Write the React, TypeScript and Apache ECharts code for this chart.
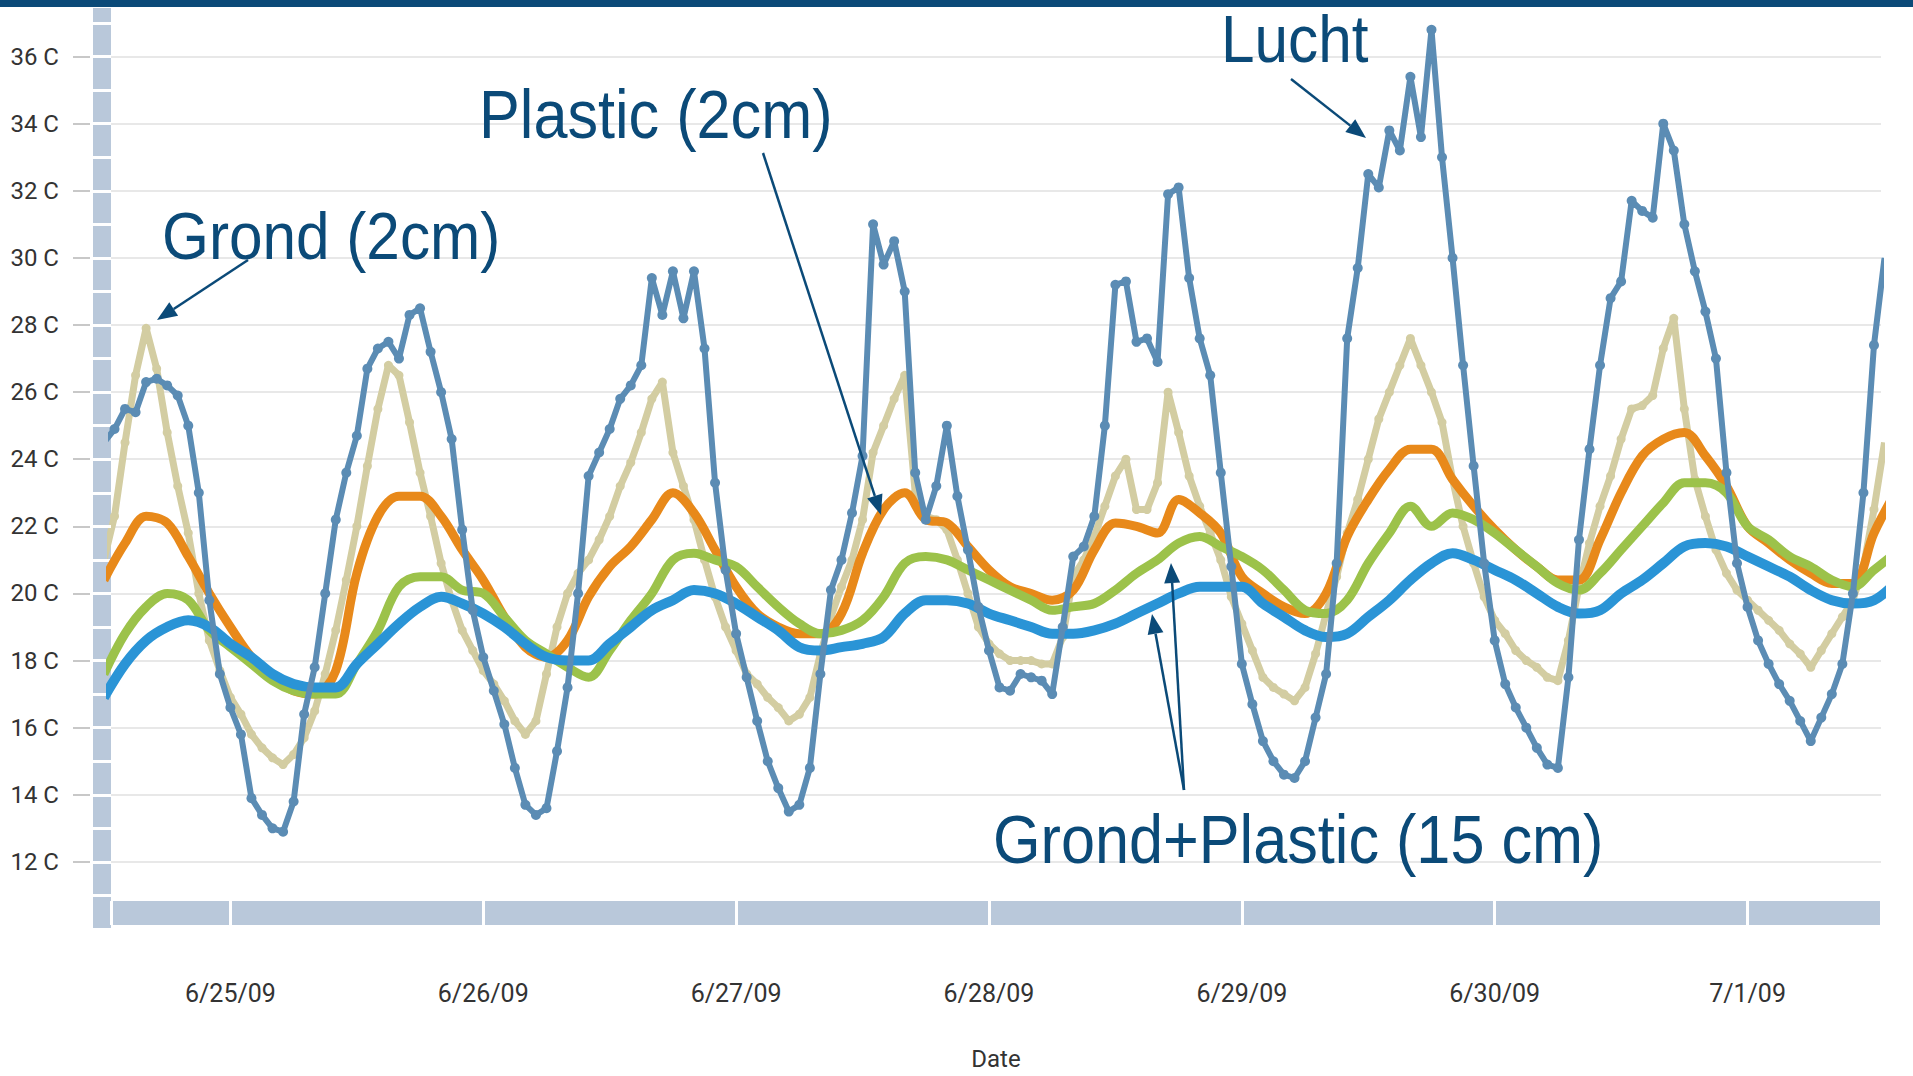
import React, { useEffect, useRef } from "react";
import * as echarts from "echarts";

// ---- time base ----
const START = new Date(2009, 5, 24, 12, 0).getTime(); // first sample 6/24/09 12:00
const HOUR = 3600 * 1000;
const X_MIN = new Date(2009, 5, 24, 12, 40).getTime();
const X_MAX = new Date(2009, 6, 1, 12, 40).getTime();
const Y_MIN = 10;
const Y_MAX = 37.5;
const Y_LABELS = [12, 14, 16, 18, 20, 22, 24, 26, 28, 30, 32, 34, 36];

// ---- Lucht (air), hourly from 6/24 12:00 ----
const LUCHT = [
  24.5, 24.9, 25.5, 25.4, 26.3, 26.4, 26.2, 25.9, 25.0, 23.0,
  19.8, 17.6, 16.6, 15.8, 13.9, 13.4, 13.0, 12.9, 13.8, 16.4,
  17.8, 20.0, 22.2, 23.6, 24.7, 26.7, 27.3, 27.5, 27.0, 28.3,
  28.5, 27.2, 26.0, 24.6, 21.9, 19.5, 18.1, 17.1, 16.1, 14.8,
  13.7, 13.4, 13.6, 15.3, 17.2, 20.0, 23.5, 24.2, 24.9, 25.8,
  26.2, 26.8, 29.4, 28.3, 29.6, 28.2, 29.6, 27.3, 23.3, 20.7,
  18.8, 17.5, 16.2, 15.0, 14.2, 13.5, 13.7, 14.8, 17.6, 20.1,
  21.0, 22.4, 24.1, 31.0, 29.8, 30.5, 29.0, 23.6, 22.2, 23.2,
  25.0, 22.9, 21.3, 19.6, 18.3, 17.2, 17.1, 17.6, 17.5, 17.4,
  17.0, 19.0, 21.1, 21.4, 22.3, 25.0, 29.2, 29.3, 27.5, 27.6,
  26.9, 31.9, 32.1, 29.4, 27.6, 26.5, 23.6, 20.8, 17.9, 16.7,
  15.6, 15.0, 14.6, 14.5, 15.0, 16.3, 17.6, 20.9, 27.6, 29.7,
  32.5, 32.1, 33.8, 33.2, 35.4, 33.6, 36.8, 33.0, 30.0, 26.8,
  23.8, 20.9, 18.6, 17.3, 16.6, 16.0, 15.4, 14.9, 14.8, 17.5,
  21.6, 24.3, 26.8, 28.8, 29.3, 31.7, 31.4, 31.2, 34.0, 33.2,
  31.0, 29.6, 28.4, 27.0, 23.6, 20.9, 19.6, 18.6, 17.9, 17.3,
  16.8, 16.2, 15.6, 16.3, 17.0, 17.9, 20.0, 23.0, 27.4, 30.0,
];

// ---- Grond (2cm), hourly from 6/24 12:00 ----
const GROND_2CM = [
  21.0, 22.3, 24.5, 26.5, 27.9, 26.7, 24.8, 23.2, 21.8, 20.0,
  18.6, 17.7, 16.9, 16.4, 15.8, 15.4, 15.1, 14.9, 15.2, 15.7,
  16.5, 17.6, 18.9, 20.4, 22.0, 23.8, 25.5, 26.8, 26.5, 25.1,
  23.6, 22.3, 20.9, 19.8, 18.9, 18.3, 17.7, 17.3, 16.8, 16.2,
  15.8, 16.2, 17.6, 19.0, 20.0, 20.6, 21.0, 21.6, 22.3, 23.2,
  23.9, 24.8, 25.8, 26.3, 24.2, 23.2, 22.2, 21.0, 19.9, 19.0,
  18.3, 17.6, 17.3, 16.9, 16.6, 16.2, 16.4, 16.9, 18.2, 19.3,
  20.2, 21.0, 22.2, 24.2, 25.0, 25.8, 26.5, 23.0, 22.3, 22.2,
  21.9, 21.0, 20.0, 19.0, 18.5, 18.2, 18.0, 18.0, 18.0, 17.9,
  17.9, 18.7, 20.5, 21.0, 21.7, 22.6, 23.5, 24.0, 22.5, 22.5,
  23.3, 26.0, 24.8, 23.5, 22.6, 21.8, 21.0, 19.9, 19.1, 18.3,
  17.5, 17.2, 17.0, 16.8, 17.2, 18.2, 19.4, 20.5, 21.8, 22.8,
  24.0, 25.2, 26.0, 26.8, 27.6, 26.8, 26.0, 25.1, 23.4, 22.0,
  20.9, 19.9, 19.2, 18.8, 18.3, 18.0, 17.8, 17.5, 17.4, 18.6,
  20.2, 21.5, 22.6, 23.5, 24.6, 25.5, 25.6, 25.9, 27.3, 28.2,
  25.5, 23.4, 22.3, 21.3, 20.6, 20.1, 19.8, 19.5, 19.2, 18.9,
  18.5, 18.2, 17.8, 18.3, 18.8, 19.3, 19.8, 20.8, 22.5, 24.5,
];

// ---- Plastic (2cm), every 2 hours from 6/24 12:00 ----
const PLASTIC_2CM = [
  20.4, 21.5, 22.3, 22.1, 21.1, 20.0, 19.0, 18.1, 17.5, 17.1,
  17.0, 17.7, 20.6, 22.3, 22.9, 22.9, 22.3, 21.3, 20.4, 19.3,
  18.4, 18.1, 18.6, 19.9, 20.8, 21.4, 22.2, 23.0, 22.4, 21.3,
  20.2, 19.4, 19.0, 18.8, 18.8, 19.4, 21.2, 22.5, 23.0, 22.2,
  22.1, 21.4, 20.7, 20.2, 20.0, 19.8, 20.1, 21.3, 22.1, 22.0,
  21.8, 22.8, 22.4, 21.8, 20.5, 20.0, 19.6, 19.4, 20.0, 21.7,
  22.8, 23.7, 24.3, 24.3, 23.4, 22.6, 21.9, 21.3, 20.8, 20.4,
  20.4, 21.6, 23.0, 24.1, 24.6, 24.8, 24.1, 23.2, 22.0, 21.5,
  21.0, 20.6, 20.3, 20.3, 21.8, 23.0,
];

// ---- Grond+Plastic (15 cm), two sensors, every 2 hours from 6/24 12:00 ----
const GROND_PLASTIC_15CM_A = [
  17.6, 18.8, 19.6, 20.0, 19.8, 18.9, 18.4, 17.9, 17.4, 17.1,
  17.0, 17.0, 17.9, 18.9, 20.2, 20.5, 20.5, 20.1, 20.0, 19.3,
  18.6, 18.2, 17.8, 17.5, 18.3, 19.2, 20.0, 21.0, 21.2, 21.0,
  20.8, 20.2, 19.6, 19.1, 18.8, 18.9, 19.2, 19.9, 20.9, 21.1,
  21.0, 20.7, 20.4, 20.1, 19.8, 19.5, 19.6, 19.7, 20.1, 20.6,
  21.0, 21.5, 21.7, 21.4, 21.1, 20.7, 20.1, 19.5, 19.4, 19.8,
  20.9, 21.8, 22.6, 22.0, 22.4, 22.2, 21.8, 21.3, 20.8, 20.3,
  20.1, 20.6, 21.3, 22.0, 22.7, 23.3, 23.3, 23.0, 22.0, 21.6,
  21.1, 20.8, 20.4, 20.2, 20.7, 21.2,
];
const GROND_PLASTIC_15CM_B = [
  16.9, 17.9, 18.6, 19.0, 19.2, 19.0, 18.5, 18.1, 17.6, 17.3,
  17.2, 17.2, 17.9, 18.5, 19.1, 19.6, 19.9, 19.7, 19.4, 19.0,
  18.5, 18.1, 18.0, 18.0, 18.5, 19.0, 19.5, 19.8, 20.1, 20.0,
  19.7, 19.3, 18.9, 18.4, 18.3, 18.4, 18.5, 18.7, 19.4, 19.8,
  19.8, 19.7, 19.4, 19.2, 19.0, 18.8, 18.8, 18.9, 19.1, 19.4,
  19.7, 20.0, 20.2, 20.2, 20.2, 19.7, 19.3, 18.9, 18.7, 18.8,
  19.3, 19.8, 20.4, 20.9, 21.2, 21.0, 20.7, 20.4, 20.0, 19.6,
  19.4, 19.5, 20.0, 20.4, 20.9, 21.4, 21.5, 21.4, 21.1, 20.8,
  20.5, 20.1, 19.8, 19.7, 19.8, 20.3,
];

const NAVY = "#0b4a78";
const BAR = "#b9c8da";
const SANS = '"Liberation Sans", Arial, sans-serif';
const AXIS_FONT = 'Roboto, "Liberation Sans", sans-serif';

function toSeries(values: number[], stepHours: number) {
  return values.map((v, i) => [START + i * stepHours * HOUR, v]);
}

function fmtDate(v: number) {
  const d = new Date(v);
  return `${d.getMonth() + 1}/${d.getDate()}/${String(d.getFullYear()).slice(2)}`;
}

function arrow(x1: number, y1: number, x2: number, y2: number, head = 20, half = 8) {
  const dx = x2 - x1;
  const dy = y2 - y1;
  const L = Math.hypot(dx, dy);
  const ux = dx / L;
  const uy = dy / L;
  const bx = x2 - ux * head;
  const by = y2 - uy * head;
  return [
    {
      type: "line",
      z: 100,
      shape: { x1, y1, x2: bx, y2: by },
      style: { stroke: NAVY, lineWidth: 2.5 },
    },
    {
      type: "polygon",
      z: 100,
      shape: {
        points: [
          [x2, y2],
          [bx - uy * half, by + ux * half],
          [bx + uy * half, by - ux * half],
        ],
      },
      style: { fill: NAVY },
    },
  ];
}

// annotation text: condensed look via horizontal scaling
function label(text: string, x: number, baseline: number, size: number, sx: number) {
  return {
    type: "text",
    z: 100,
    x,
    y: baseline - size * 0.35,
    scaleX: sx,
    scaleY: 1,
    style: {
      text,
      font: `${size}px ${SANS}`,
      fill: NAVY,
      textAlign: "left",
      textVerticalAlign: "middle",
      verticalAlign: "middle",
    },
  };
}

export default function App() {
  const ref = useRef<HTMLDivElement>(null);

  useEffect(() => {
    document.body.style.margin = "0";
    const chart = echarts.init(ref.current!, null, { renderer: "svg" });

    const lineBase = { type: "line", animation: false, silent: true, clip: true };

    const option: any = {
      animation: false,
      backgroundColor: "#ffffff",
      grid: { left: 111, right: 32, top: 6.25, bottom: 134, containLabel: false },
      xAxis: [
        {
          type: "time",
          position: "bottom",
          min: X_MIN,
          max: X_MAX,
          minInterval: 24 * HOUR,
          maxInterval: 24 * HOUR,
          offset: -16,
          axisLine: { show: true, lineStyle: { color: BAR, width: 24, cap: "butt" } },
          axisTick: { show: false },
          splitLine: { show: false },
          axisLabel: {
            formatter: (v: number) => fmtDate(v),
            margin: 68,
            fontSize: 25,
            color: "#333333",
            fontFamily: AXIS_FONT,
            showMinLabel: false,
            showMaxLabel: false,
          },
          name: "Date",
          nameLocation: "middle",
          nameGap: 134,
          nameTextStyle: { fontSize: 24, color: "#333333", fontFamily: AXIS_FONT },
        },
        {
          type: "time",
          position: "bottom",
          min: X_MIN,
          max: X_MAX,
          minInterval: 24 * HOUR,
          maxInterval: 24 * HOUR,
          offset: -4,
          z: 3,
          axisLine: { show: false },
          axisTick: { show: true, inside: true, length: 24, lineStyle: { color: "#ffffff", width: 3 } },
          axisLabel: { show: false },
          splitLine: { show: false },
        },
      ],
      yAxis: [
        {
          type: "value",
          position: "left",
          min: Y_MIN,
          max: Y_MAX,
          interval: 2,
          offset: 21,
          axisLine: { show: false },
          axisTick: {
            show: true,
            length: 17,
            customValues: Y_LABELS,
            lineStyle: { color: "#c8c8c8", width: 2 },
          },
          axisLabel: {
            formatter: (v: number) => (Y_LABELS.includes(v) ? `${v} C` : ""),
            margin: 31,
            fontSize: 24,
            color: "#333333",
            fontFamily: AXIS_FONT,
          },
          splitLine: { show: true, lineStyle: { color: "#e8e8e8", width: 2 } },
        },
        {
          type: "value",
          position: "left",
          min: Y_MIN,
          max: Y_MAX,
          interval: 1,
          offset: 9,
          axisLine: { show: true, lineStyle: { color: BAR, width: 18, cap: "butt" } },
          axisTick: { show: false },
          axisLabel: { show: false },
          splitLine: { show: false },
        },
        {
          type: "value",
          position: "left",
          min: Y_MIN,
          max: Y_MAX,
          interval: 1,
          offset: 0,
          z: 3,
          axisLine: { show: false },
          axisTick: { show: true, length: 18, lineStyle: { color: "#ffffff", width: 3 } },
          axisLabel: { show: false },
          splitLine: { show: false },
        },
      ],
      series: [
        {
          ...lineBase,
          name: "Grond (2cm)",
          data: toSeries(GROND_2CM, 1),
          showSymbol: true,
          symbol: "circle",
          symbolSize: 9,
          itemStyle: { color: "#d3cda2" },
          lineStyle: { color: "#d3cda2", width: 7 },
          z: 2,
        },
        {
          ...lineBase,
          name: "Plastic (2cm)",
          data: toSeries(PLASTIC_2CM, 2),
          showSymbol: false,
          smooth: 0.35,
          lineStyle: { color: "#e8891a", width: 9 },
          z: 3,
        },
        {
          ...lineBase,
          name: "Grond+Plastic (15 cm) A",
          data: toSeries(GROND_PLASTIC_15CM_A, 2),
          showSymbol: false,
          smooth: 0.35,
          lineStyle: { color: "#9cc24a", width: 9 },
          z: 4,
        },
        {
          ...lineBase,
          name: "Grond+Plastic (15 cm) B",
          data: toSeries(GROND_PLASTIC_15CM_B, 2),
          showSymbol: false,
          smooth: 0.35,
          lineStyle: { color: "#2a94d6", width: 10 },
          z: 5,
        },
        {
          ...lineBase,
          name: "Lucht",
          data: toSeries(LUCHT, 1),
          showSymbol: true,
          symbol: "circle",
          symbolSize: 10,
          itemStyle: { color: "#5b8cb4" },
          lineStyle: { color: "#5b8cb4", width: 6 },
          z: 6,
        },
      ],
      graphic: [
        {
          type: "rect",
          z: 100,
          shape: { x: 0, y: 0, width: 1913, height: 7 },
          style: { fill: NAVY },
        },
        label("Lucht", 1221, 62, 67, 0.9),
        label("Plastic (2cm)", 479, 138, 68, 0.9),
        label("Grond (2cm)", 162, 259, 67, 0.9),
        label("Grond+Plastic (15 cm)", 993, 863, 68, 0.9),
        ...arrow(248, 260, 157, 320),
        ...arrow(763, 153, 881, 515),
        ...arrow(1291, 79, 1366, 138),
        ...arrow(1184, 790, 1171, 563),
        ...arrow(1184, 790, 1152, 614),
      ],
    };

    chart.setOption(option);
    return () => chart.dispose();
  }, []);

  return <div ref={ref} style={{ width: 1913, height: 1076 }} />;
}
